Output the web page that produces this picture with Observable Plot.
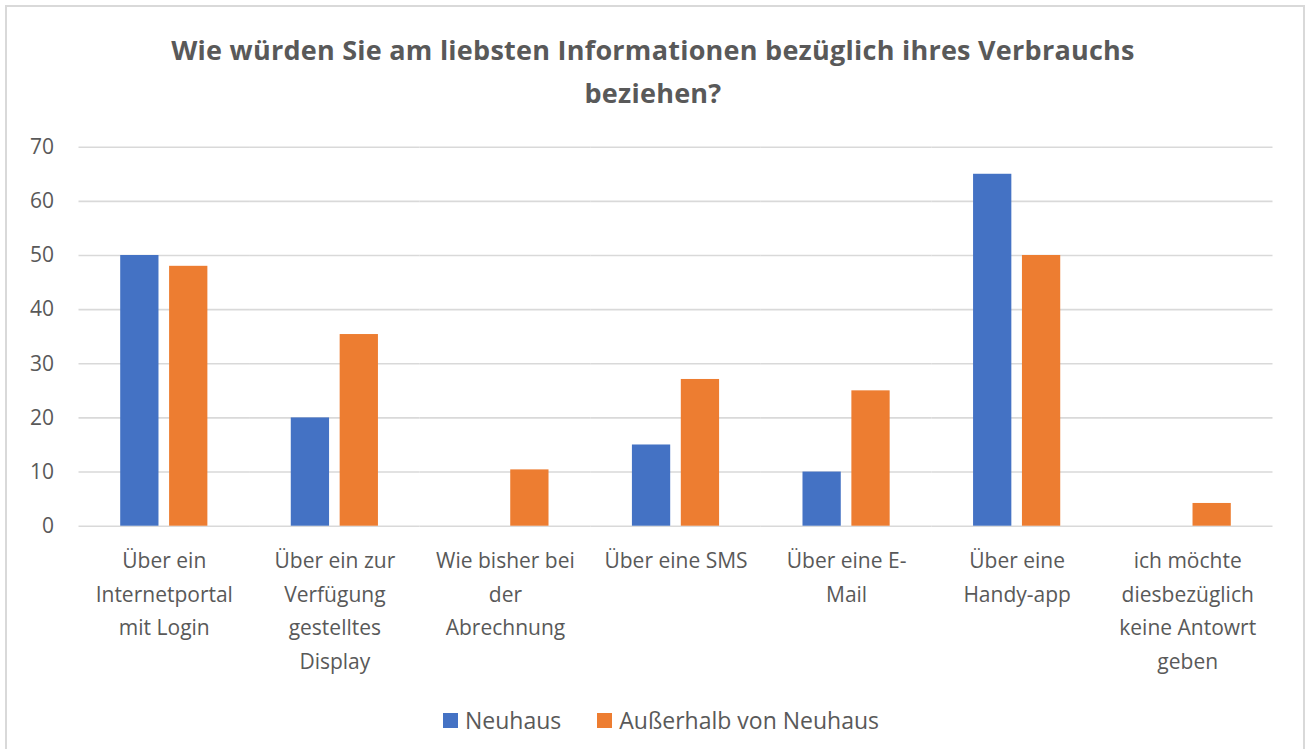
<!DOCTYPE html>
<html><head><meta charset="utf-8">
<script src="https://cdn.jsdelivr.net/npm/d3@7"></script>
<script src="https://cdn.jsdelivr.net/npm/@observablehq/plot@0.6"></script>
<style>
html,body{margin:0;padding:0;background:#fff;overflow:hidden;}
#wrap{position:relative;width:1306px;height:749px;font-family:"Open Sans", sans-serif;color:#595959;}
#frame{position:absolute;left:5px;top:5px;width:1300px;height:780px;border:2px solid #d9d9d9;box-sizing:border-box;}
#title{position:absolute;left:0;top:28px;width:1306px;text-align:center;font-weight:bold;font-size:27px;letter-spacing:0.25px;line-height:43px;}
#chart{position:absolute;left:0;top:120px;}
#legend{position:absolute;top:705px;left:8px;width:1306px;display:flex;justify-content:center;align-items:center;font-size:23px;line-height:30px;}
.item{display:flex;align-items:center;margin:0 18px;}
.sw{width:15px;height:15px;margin-right:7px;}
</style></head>
<body><div id="wrap"><div id="frame"></div><div id="title"></div><div id="chart"></div><div id="legend"></div></div>
<script>
const titleLines = ["Wie würden Sie am liebsten Informationen bezüglich ihres Verbrauchs", "beziehen?"];
const categories = ["Über ein Internetportal mit Login", "Über ein zur Verfügung gestelltes Display", "Wie bisher bei der Abrechnung", "Über eine SMS", "Über eine E-Mail", "Über eine Handy-app", "ich möchte diesbezüglich keine Antowrt geben"];
const tickLabels = ["Über ein\nInternetportal\nmit Login", "Über ein zur\nVerfügung\ngestelltes\nDisplay", "Wie bisher bei\nder\nAbrechnung", "Über eine SMS", "Über eine E-\nMail", "Über eine\nHandy-app", "ich möchte\ndiesbezüglich\nkeine Antowrt\ngeben"];
const series = ["Neuhaus", "Außerhalb von Neuhaus"];
const neuhaus = [50, 20, 0, 15, 10, 65, 0];
const ausserhalb = [48, 35.4, 10.4, 27.1, 25, 50, 4.2];
const colors = ["#4472C4", "#ED7D31"];
const yTicks = [0, 10, 20, 30, 40, 50, 60, 70];

const values = [neuhaus, ausserhalb];
const table = categories.flatMap((c, i) => series.map((s, j) => ({category: c, series: s, value: values[j][i]})));

document.getElementById("title").innerHTML = titleLines.join("<br>");

const chart = Plot.plot({
  width: 1306, height: 570,
  marginTop: 26.7, marginBottom: 164.3, marginLeft: 78.5, marginRight: 33.5,
  style: {fontFamily: "'Open Sans', sans-serif", fontSize: "21px", color: "#595959", background: "transparent"},
  fx: {domain: categories, padding: 0, round: false},
  x: {domain: series, paddingInner: 0.217, paddingOuter: 0.853, round: false, axis: null},
  y: {domain: [0, 70]},
  color: {domain: series, range: colors},
  marks: [
    Plot.ruleY(yTicks, {stroke: "#d9d9d9", strokeWidth: 1.6}),
    Plot.barY(table, {fx: "category", x: "series", y: "value", fill: "series"}),
    Plot.axisY({ticks: yTicks, tickSize: 0, tickPadding: 25, fontSize: 21, label: null, tickFormat: d => String(d)}),
    Plot.axisFx({anchor: "bottom", tickFormat: d => tickLabels[categories.indexOf(d)], tickSize: 0, tickPadding: 18, fontSize: 21, lineHeight: 1.6, label: null})
  ]
});
document.getElementById("chart").appendChild(chart);

const legend = document.getElementById("legend");
series.forEach((s, i) => {
  const it = document.createElement("div"); it.className = "item";
  const sw = document.createElement("div"); sw.className = "sw"; sw.style.background = colors[i];
  const tx = document.createElement("span"); tx.textContent = s;
  it.appendChild(sw); it.appendChild(tx); legend.appendChild(it);
});
</script></body></html>
